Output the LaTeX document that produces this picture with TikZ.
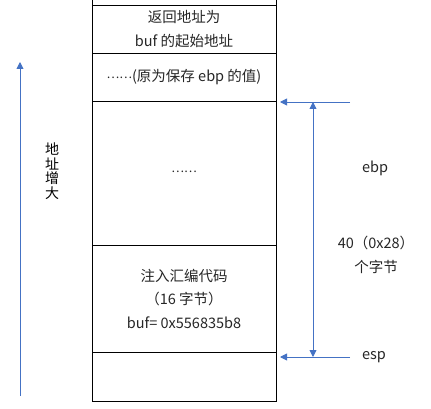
\documentclass[tikz,border=0pt]{standalone}
\usepackage{fontspec}
\newfontfamily\cjk{Noto Sans CJK SC}
\usepackage{xcolor}
\usetikzlibrary{arrows.meta,positioning}
\definecolor{ptrblue}{RGB}{68,114,196}
\definecolor{txtgray}{RGB}{38,38,38}
\newcommand{\middots}{\raisebox{0.2em}{\fontsize{12}{12}\selectfont……}}

\begin{document}
\begin{tikzpicture}[
  x=1pt, y=-1pt,
  cell/.style={rectangle, draw, line width=0.9pt, minimum width=184pt,
               minimum height=#1, inner sep=2pt, outer sep=0pt,
               align=center, font=\cjk\fontsize{14.5}{23.5}\selectfont,
               text=txtgray},
  cell/.default={48pt},
  ptr/.style={-{Triangle[length=7pt, width=7pt]}, line width=0.9pt, color=ptrblue},
  span/.style={{Triangle[length=7pt, width=7pt]}-{Triangle[length=7pt, width=7pt]},
               line width=0.9pt, color=ptrblue},
  lbl/.style={font=\cjk\fontsize{14.5}{23.5}\selectfont, text=txtgray, align=center}
]
  \useasboundingbox (0,0) rectangle (431,409);

  % stack cells
  \node[cell=48pt] (ret) at (184,29) {返回地址为\\buf 的起始地址};
  \node[cell=48pt, below=0pt of ret] (oldebp) {\middots(原为保存 ebp 的值)};
  \node[cell=144pt, below=0pt of oldebp] (mid) {\middots};
  \node[cell=107pt, below=0pt of mid] (code) {注入汇编代码\\（16 字节）\\buf= 0x556835b8};
  \node[cell=49pt, below=0pt of code] (low) {};

  % cell above, cut off
  \draw[line width=0.9pt] (ret.north west) -- ++(0,-6);
  \draw[line width=0.9pt] (ret.north east) -- ++(0,-6);

  % ebp / esp pointers
  \coordinate (ebpfrom) at (350,102);
  \coordinate (ebpto) at (280,102);
  \coordinate (espfrom) at (350,357);
  \coordinate (espto) at (280,357);
  \draw[ptr] (ebpfrom) -- (ebpto);
  \draw[ptr] (espfrom) -- (espto);
  \node[lbl] (ebp) at (375,168) {ebp};
  \node[lbl] (esp) at (374,357) {esp};

  % 40 bytes
  \coordinate (spantop) at (313,102);
  \coordinate (spanbot) at (313,357);
  \draw[span] (spantop) -- (spanbot);
  \node[lbl] (size) at (376,255) {40（0x28）\\个字节};

  % address grows
  \coordinate (addrlow) at (20,396);
  \coordinate (addrhigh) at (20,62);
  \draw[ptr] (addrlow) -- (addrhigh);
  \node[font=\cjk\fontsize{14}{14.5}\selectfont, text=black, align=center] (grow) at (52,171) {地\\址\\增\\大};
\end{tikzpicture}
\end{document}
